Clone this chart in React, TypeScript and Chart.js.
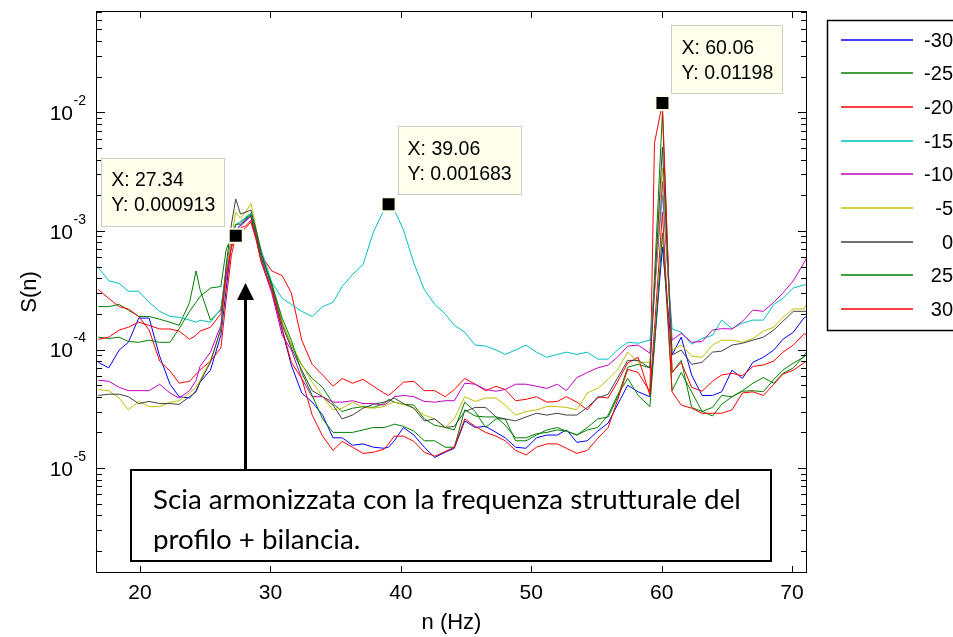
import React, { useEffect, useRef } from "react";
import { Chart, registerables } from "chart.js";

Chart.register(...registerables);

// ---------- data ----------
const freq = [16.8, 17.6, 18.4, 19.1, 19.9, 20.7, 21.5, 22.3, 23.0, 23.8, 24.3, 24.6, 25.4, 26.2, 26.6, 27.0, 27.34, 27.7, 28.1, 28.5, 28.9, 29.3, 30.1, 30.9, 31.6, 32.4, 33.2, 34.0, 34.8, 35.5, 36.3, 37.1, 37.9, 38.7, 39.06, 39.5, 40.2, 41.0, 41.8, 42.6, 43.4, 44.1, 44.9, 45.7, 46.5, 47.3, 48.0, 48.8, 49.6, 50.4, 51.2, 52.0, 52.7, 53.5, 54.3, 55.1, 55.9, 56.6, 57.4, 58.2, 59.1, 59.45, 60.06, 60.8, 61.5, 62.3, 63.1, 63.9, 64.6, 65.4, 66.2, 67.0, 67.8, 68.6, 69.3, 70.1, 70.9, 71.1];

const sM30 = [7.8e-5, 7.0e-5, 9.9e-5, 1.15e-4, 1.84e-4, 1.84e-4, 8.8e-5, 5.1e-5, 4.0e-5, 3.9e-5, 4.5e-5, 5.3e-5, 6.7e-5, 1.32e-4, 3.2e-4, 7.6e-4, 1.02e-3, 1.12e-3, 1.23e-3, 1.33e-3, 9.2e-4, 5.9e-4, 3.2e-4, 1.46e-4, 7.4e-5, 4.3e-5, 3.6e-5, 2.8e-5, 1.8e-5, 1.8e-5, 1.56e-5, 1.6e-5, 1.5e-5, 1.47e-5, 1.5e-5, 1.7e-5, 2.2e-5, 1.9e-5, 1.5e-5, 1.23e-5, 1.36e-5, 1.47e-5, 2.5e-5, 2.2e-5, 2.25e-5, 2.0e-5, 1.8e-5, 1.5e-5, 1.47e-5, 1.8e-5, 1.9e-5, 1.9e-5, 2.1e-5, 1.65e-5, 1.7e-5, 2.05e-5, 2.4e-5, 3.4e-5, 5.0e-5, 4.4e-5, 4.0e-5, 1.11e-4, 7.3e-4, 9.0e-5, 1.27e-4, 6.1e-5, 4.1e-5, 4.1e-5, 4.4e-5, 6.7e-5, 5.7e-5, 7.8e-5, 8.6e-5, 9.9e-5, 1.22e-4, 1.4e-4, 1.84e-4, 1.9e-4];
const sM25 = [2.3e-4, 2.3e-4, 2.4e-4, 2.15e-4, 1.9e-4, 1.9e-4, 1.8e-4, 1.7e-4, 1.6e-4, 2.5e-4, 4.6e-4, 3.2e-4, 1.77e-4, 2.15e-4, 4.7e-4, 8.7e-4, 1.12e-3, 1.19e-3, 1.28e-3, 1.39e-3, 9.8e-4, 6.2e-4, 3.6e-4, 1.7e-4, 1.09e-4, 7.4e-5, 5.7e-5, 4.8e-5, 3.5e-5, 3.0e-5, 3.2e-5, 3.3e-5, 3.25e-5, 3.5e-5, 3.8e-5, 3.6e-5, 3.45e-5, 3.4e-5, 2.6e-5, 2.3e-5, 2.2e-5, 2.1e-5, 3.6e-5, 3.0e-5, 2.2e-5, 2.6e-5, 2.6e-5, 1.7e-5, 1.7e-5, 1.9e-5, 2.1e-5, 2.2e-5, 2.05e-5, 1.9e-5, 2.2e-5, 2.6e-5, 2.7e-5, 3.9e-5, 7.1e-5, 7.5e-5, 7.0e-5, 4.1e-4, 1.0e-2, 6.4e-5, 8.1e-5, 3.25e-5, 3.0e-5, 3.25e-5, 4.1e-5, 4.0e-5, 4.5e-5, 5.2e-5, 5.8e-5, 5.2e-5, 6.3e-5, 7.0e-5, 8.8e-5, 9.5e-5];
const sM20 = [3.2e-4, 2.7e-4, 2.3e-4, 2.2e-4, 1.9e-4, 1.46e-4, 8.0e-5, 6.6e-5, 5.2e-5, 5.4e-5, 6.2e-5, 6.7e-5, 8.0e-5, 1.03e-4, 2.6e-4, 6.2e-4, 9.0e-4, 1.06e-3, 1.1e-3, 1.23e-3, 9.0e-4, 6.2e-4, 4.6e-4, 4.2e-4, 3.0e-4, 1.2e-4, 7.5e-5, 6.1e-5, 4.9e-5, 5.7e-5, 5.2e-5, 5.6e-5, 4.9e-5, 4.3e-5, 4.1e-5, 4.5e-5, 5.3e-5, 5.4e-5, 4.5e-5, 4.5e-5, 4.0e-5, 4.6e-5, 5.7e-5, 5.1e-5, 4.5e-5, 4.9e-5, 4.6e-5, 3.7e-5, 3.8e-5, 4.0e-5, 3.6e-5, 3.65e-5, 4.0e-5, 3.6e-5, 3.1e-5, 4.0e-5, 3.9e-5, 5.3e-5, 7.7e-5, 8.6e-5, 4.1e-5, 5.5e-3, 1.198e-2, 6.4e-5, 7.8e-5, 4.8e-5, 4.45e-5, 5.4e-5, 6.1e-5, 6.3e-5, 6.0e-5, 7.2e-5, 7.4e-5, 8.0e-5, 9.5e-5, 1.09e-4, 1.35e-4, 1.35e-4];
const sM15 = [4.9e-4, 3.8e-4, 3.6e-4, 3.1e-4, 3.1e-4, 2.5e-4, 2.1e-4, 1.9e-4, 1.87e-4, 1.77e-4, 1.7e-4, 1.77e-4, 1.7e-4, 2.2e-4, 4.7e-4, 8.4e-4, 1.12e-3, 1.19e-3, 1.31e-3, 1.41e-3, 1.02e-3, 6.9e-4, 3.7e-4, 2.7e-4, 2.4e-4, 2.1e-4, 1.9e-4, 2.3e-4, 2.5e-4, 3.4e-4, 4.3e-4, 5.2e-4, 9.8e-4, 1.5e-3, 1.683e-3, 1.5e-3, 1.02e-3, 5.35e-4, 3.2e-4, 2.4e-4, 2.0e-4, 1.6e-4, 1.4e-4, 1.09e-4, 1.07e-4, 9.9e-5, 9.1e-5, 9.9e-5, 1.09e-4, 9.5e-5, 8.6e-5, 9.1e-5, 9.5e-5, 9.1e-5, 9.5e-5, 8.3e-5, 8.3e-5, 9.9e-5, 1.15e-4, 1.13e-4, 1.2e-4, 3.2e-4, 2.0e-3, 1.49e-4, 1.4e-4, 1.11e-4, 1.24e-4, 1.32e-4, 1.77e-4, 1.5e-4, 1.67e-4, 1.77e-4, 1.77e-4, 2.4e-4, 2.7e-4, 3.3e-4, 3.5e-4, 3.5e-4];
const sM10 = [5.5e-5, 5.4e-5, 4.8e-5, 4.5e-5, 4.5e-5, 4.5e-5, 5.1e-5, 4.3e-5, 3.9e-5, 4.5e-5, 5.5e-5, 7.2e-5, 9.5e-5, 1.6e-4, 3.8e-4, 7.6e-4, 1.02e-3, 1.1e-3, 1.21e-3, 1.33e-3, 8.7e-4, 5.45e-4, 3.0e-4, 1.32e-4, 9.9e-5, 5.7e-5, 4.0e-5, 4.0e-5, 3.6e-5, 3.6e-5, 3.7e-5, 3.5e-5, 3.5e-5, 3.4e-5, 3.6e-5, 4.0e-5, 4.1e-5, 4.0e-5, 3.65e-5, 3.6e-5, 3.7e-5, 3.7e-5, 5.2e-5, 5.1e-5, 4.6e-5, 4.45e-5, 4.6e-5, 5.1e-5, 5.1e-5, 4.9e-5, 4.7e-5, 5.1e-5, 4.5e-5, 5.8e-5, 6.4e-5, 7.0e-5, 7.4e-5, 8.6e-5, 1.07e-4, 1.09e-4, 9.3e-5, 3.0e-4, 2.6e-3, 1.2e-4, 1.37e-4, 1.15e-4, 1.17e-4, 1.46e-4, 1.5e-4, 1.49e-4, 1.73e-4, 2.15e-4, 2.1e-4, 2.5e-4, 3.0e-4, 3.8e-4, 5.35e-4, 5.9e-4];
const sM5 = [4.6e-5, 4.5e-5, 3.9e-5, 3.1e-5, 3.65e-5, 3.3e-5, 3.3e-5, 3.6e-5, 3.7e-5, 4.3e-5, 4.8e-5, 5.5e-5, 8.1e-5, 1.46e-4, 4.2e-4, 8.4e-4, 1.44e-3, 1.28e-3, 1.44e-3, 1.71e-3, 1.06e-3, 6.2e-4, 3.3e-4, 1.7e-4, 1.11e-4, 7.5e-5, 5.3e-5, 4.0e-5, 3.1e-5, 3.2e-5, 3.6e-5, 3.25e-5, 3.2e-5, 3.3e-5, 3.45e-5, 3.6e-5, 3.45e-5, 3.2e-5, 2.8e-5, 2.6e-5, 2.2e-5, 2.6e-5, 4.0e-5, 3.65e-5, 3.9e-5, 3.9e-5, 3.4e-5, 2.8e-5, 3.0e-5, 3.1e-5, 3.3e-5, 3.3e-5, 3.25e-5, 3.1e-5, 4.3e-5, 4.7e-5, 5.6e-5, 6.7e-5, 9.5e-5, 7.8e-5, 7.8e-5, 3.0e-4, 3.4e-3, 9.9e-5, 1.09e-4, 8.8e-5, 8.6e-5, 1.09e-4, 1.2e-4, 1.2e-4, 1.15e-4, 1.24e-4, 1.43e-4, 1.54e-4, 1.87e-4, 2.2e-4, 2.2e-4, 2.4e-4];
const s0 = [4.1e-5, 4.2e-5, 4.2e-5, 4.0e-5, 3.5e-5, 3.65e-5, 3.5e-5, 3.5e-5, 3.45e-5, 4.0e-5, 4.4e-5, 5.3e-5, 7.8e-5, 1.5e-4, 5.1e-4, 1.12e-3, 1.86e-3, 1.39e-3, 1.44e-3, 1.5e-3, 1.02e-3, 6.5e-4, 3.4e-4, 1.6e-4, 1.03e-4, 6.7e-5, 4.5e-5, 4.0e-5, 3.4e-5, 2.6e-5, 2.8e-5, 3.2e-5, 3.45e-5, 3.6e-5, 3.7e-5, 3.9e-5, 3.5e-5, 3.2e-5, 2.5e-5, 2.6e-5, 2.2e-5, 2.25e-5, 3.0e-5, 3.25e-5, 3.25e-5, 2.7e-5, 2.6e-5, 2.5e-5, 2.7e-5, 2.9e-5, 2.8e-5, 2.9e-5, 2.8e-5, 2.8e-5, 3.25e-5, 3.9e-5, 4.2e-5, 5.7e-5, 8.1e-5, 8.1e-5, 7.0e-5, 3.2e-4, 5.1e-3, 9.0e-5, 9.9e-5, 7.5e-5, 7.8e-5, 9.5e-5, 9.7e-5, 1.09e-4, 1.13e-4, 1.2e-4, 1.27e-4, 1.46e-4, 1.73e-4, 2.1e-4, 2.1e-4, 2.1e-4];
const sP25 = [1.27e-4, 1.24e-4, 1.27e-4, 1.17e-4, 1.15e-4, 1.2e-4, 1.15e-4, 1.15e-4, 1.5e-4, 2.1e-4, 2.5e-4, 2.8e-4, 3.3e-4, 3.4e-4, 6.9e-4, 9.0e-4, 1.14e-3, 1.14e-3, 1.26e-3, 1.36e-3, 9.4e-4, 6.0e-4, 3.6e-4, 1.84e-4, 1.2e-4, 6.4e-5, 4.1e-5, 2.6e-5, 2.0e-5, 2.0e-5, 2.0e-5, 2.1e-5, 2.2e-5, 2.2e-5, 2.25e-5, 2.35e-5, 2.25e-5, 2.05e-5, 1.7e-5, 1.7e-5, 1.5e-5, 1.5e-5, 3.1e-5, 2.75e-5, 2.7e-5, 2.7e-5, 2.3e-5, 1.8e-5, 1.8e-5, 1.95e-5, 2.0e-5, 2.1e-5, 2.05e-5, 1.9e-5, 2.1e-5, 2.2e-5, 2.8e-5, 4.1e-5, 5.7e-5, 4.1e-5, 3.3e-5, 1.09e-4, 9.6e-4, 4.5e-5, 6.4e-5, 4.4e-5, 3.0e-5, 2.75e-5, 3.45e-5, 4.0e-5, 4.45e-5, 4.5e-5, 4.4e-5, 5.6e-5, 6.7e-5, 7.7e-5, 8.6e-5, 9.0e-5];
const sP30 = [1.22e-4, 1.27e-4, 1.46e-4, 1.54e-4, 1.7e-4, 1.6e-4, 1.49e-4, 1.49e-4, 1.43e-4, 1.22e-4, 1.32e-4, 1.43e-4, 1.54e-4, 2.0e-4, 4.2e-4, 7.2e-4, 9.13e-4, 9.8e-4, 1.06e-3, 1.19e-3, 8.4e-4, 5.45e-4, 3.2e-4, 1.5e-4, 7.8e-5, 5.7e-5, 2.8e-5, 1.86e-5, 1.41e-5, 1.68e-5, 1.5e-5, 1.33e-5, 1.36e-5, 1.44e-5, 1.6e-5, 1.86e-5, 1.86e-5, 1.68e-5, 1.36e-5, 1.26e-5, 1.38e-5, 1.5e-5, 2.6e-5, 2.25e-5, 2.0e-5, 1.86e-5, 1.7e-5, 1.41e-5, 1.29e-5, 1.5e-5, 1.6e-5, 1.6e-5, 1.47e-5, 1.33e-5, 1.41e-5, 1.78e-5, 2.2e-5, 3.7e-5, 6.8e-5, 6.4e-5, 4.4e-5, 1.5e-4, 1.44e-3, 4.4e-5, 3.4e-5, 3.2e-5, 2.9e-5, 2.9e-5, 2.9e-5, 3.1e-5, 4.3e-5, 4.4e-5, 4.1e-5, 5.1e-5, 6.2e-5, 6.7e-5, 7.7e-5, 8.0e-5];

const seriesLabels = ["-30", "-25", "-20", "-15", "-10", "-5", "0", "25", "30"];
const seriesValues = [sM30, sM25, sM20, sM15, sM10, sM5, s0, sP25, sP30];
const seriesColors = ["#0000FF", "#008000", "#FF0000", "#00BFBF", "#BF00BF", "#BFBF00", "#404040", "#008000", "#FF0000"];

const xTickValues = [20, 30, 40, 50, 60, 70];
const yTickExponents = [-2, -3, -4, -5];
const xLimits = [16.7, 71.07];
const yLimits = [1.33e-6, 0.0702];

const tipX = [27.34, 39.06, 60.06];
const tipY = [0.000913, 0.001683, 0.01198];
const tipLabelX = ["X: 27.34", "X: 39.06", "X: 60.06"];
const tipLabelY = ["Y: 0.000913", "Y: 0.001683", "Y: 0.01198"];

const noteLines = ["Scia armonizzata con la frequenza strutturale del", "profilo + bilancia."];
const arrowX = 28.05;

const AX_FONT = '"Liberation Sans", Arial, Helvetica, sans-serif';

const decor = {
  id: "decor",
  afterDraw(chart: any) {
    const { ctx, chartArea: a, scales } = chart;
    const xs = scales.x;
    const ys = scales.y;
    ctx.save();

    // axes frame
    ctx.strokeStyle = "#000";
    ctx.lineWidth = 1;
    ctx.strokeRect(a.left - 0.5, a.top - 0.5, a.right - a.left + 1, a.bottom - a.top + 1);

    // ticks
    ctx.beginPath();
    for (const t of xTickValues) {
      const px = Math.round(xs.getPixelForValue(t)) + 0.5;
      ctx.moveTo(px, a.bottom);
      ctx.lineTo(px, a.bottom - 6);
      ctx.moveTo(px, a.top);
      ctx.lineTo(px, a.top + 6);
    }
    for (let e = -7; e <= -1; e++) {
      for (let k = 1; k <= 9; k++) {
        const v = k * Math.pow(10, e);
        if (v < ys.min || v > ys.max) continue;
        const py = Math.round(ys.getPixelForValue(v)) + 0.5;
        const len = k === 1 ? 8 : 5;
        ctx.moveTo(a.left, py);
        ctx.lineTo(a.left + len, py);
        ctx.moveTo(a.right, py);
        ctx.lineTo(a.right - len, py);
      }
    }
    ctx.stroke();

    // tick labels
    ctx.fillStyle = "#000";
    ctx.font = `21px ${AX_FONT}`;
    ctx.textAlign = "center";
    ctx.textBaseline = "middle";
    for (const t of xTickValues) {
      ctx.fillText(String(t), xs.getPixelForValue(t), a.bottom + 21);
    }
    for (const e of yTickExponents) {
      const py = ys.getPixelForValue(Math.pow(10, e));
      const sup = String(e);
      ctx.font = `14px ${AX_FONT}`;
      const sw = ctx.measureText(sup).width;
      ctx.textAlign = "right";
      ctx.fillText(sup, a.left - 11, py - 11);
      ctx.font = `21px ${AX_FONT}`;
      ctx.fillText("10", a.left - 11 - sw - 0.5, py + 2);
    }

    // axis titles
    ctx.font = `22px ${AX_FONT}`;
    ctx.textAlign = "center";
    ctx.fillText("n (Hz)", (a.left + a.right) / 2, 623);
    ctx.save();
    ctx.translate(30, (a.top + a.bottom) / 2);
    ctx.rotate(-Math.PI / 2);
    ctx.fillText("S(n)", 0, 0);
    ctx.restore();

    // legend
    ctx.fillStyle = "#fff";
    ctx.fillRect(827, 20, 140, 311);
    ctx.lineWidth = 1.5;
    ctx.strokeStyle = "#000";
    ctx.strokeRect(827.5, 20.5, 140, 310);
    ctx.font = `20px ${AX_FONT}`;
    ctx.textAlign = "right";
    ctx.textBaseline = "middle";
    seriesLabels.forEach((lab, i) => {
      const y = Math.round(39.5 + i * 33.7);
      ctx.strokeStyle = seriesColors[i];
      ctx.lineWidth = 1.4;
      ctx.beginPath();
      ctx.moveTo(841, y);
      ctx.lineTo(913, y);
      ctx.stroke();
      ctx.fillStyle = "#000";
      ctx.fillText(lab, 953, y + 1);
    });

    // data tip boxes
    ctx.font = `19.5px ${AX_FONT}`;
    ctx.textAlign = "left";
    ctx.textBaseline = "alphabetic";
    tipX.forEach((tx, i) => {
      const mx = xs.getPixelForValue(tx);
      const my = ys.getPixelForValue(tipY[i]);
      const w = Math.max(ctx.measureText(tipLabelX[i]).width, ctx.measureText(tipLabelY[i]).width) + 19;
      const h = 68;
      let left: number;
      const bottom = my - 10;
      if (i === 0) left = mx - 11.5 - w;
      else left = mx + 9;
      const top = bottom - h;
      ctx.fillStyle = "rgb(255,255,236)";
      ctx.fillRect(left, top, w, h);
      ctx.strokeStyle = "rgb(205,205,200)";
      ctx.lineWidth = 1;
      ctx.strokeRect(Math.round(left) + 0.5, Math.round(top) + 0.5, Math.round(w), Math.round(h));
      ctx.fillStyle = "#000";
      ctx.fillText(tipLabelX[i], left + 10, top + 28.5);
      ctx.fillText(tipLabelY[i], left + 10, top + 53.5);
    });

    // arrow
    const ax = Math.round(xs.getPixelForValue(arrowX)) + 0.5;
    ctx.strokeStyle = "#000";
    ctx.fillStyle = "#000";
    ctx.lineWidth = 3;
    ctx.beginPath();
    ctx.moveTo(ax, 470);
    ctx.lineTo(ax, 296);
    ctx.stroke();
    ctx.beginPath();
    ctx.moveTo(ax, 283);
    ctx.lineTo(ax - 8.5, 300);
    ctx.lineTo(ax + 8.5, 300);
    ctx.closePath();
    ctx.fill();

    // note box
    const bx = 131, by = 470, bw = 640, bh = 91;
    ctx.fillStyle = "#fff";
    ctx.fillRect(bx, by, bw, bh);
    ctx.lineWidth = 2;
    ctx.strokeStyle = "#000";
    ctx.strokeRect(bx, by, bw, bh);
    ctx.save();
    ctx.beginPath();
    ctx.rect(bx + 2, by + 2, bw - 4, 80);
    ctx.clip();
    ctx.font = `24px Lato, "Open Sans", sans-serif`;
    const mw = ctx.measureText(noteLines[0]).width;
    const fs = (24 * 588) / mw;
    ctx.font = `${fs}px Lato, "Open Sans", sans-serif`;
    ctx.fillStyle = "#000";
    ctx.textAlign = "left";
    ctx.fillText(noteLines[0], 153, 509);
    ctx.fillText(noteLines[1], 153, 549);
    ctx.restore();

    ctx.restore();
  },
};

export default function App() {
  const ref = useRef<HTMLCanvasElement>(null);
  useEffect(() => {
    if (!ref.current) return;
    const datasets: any[] = seriesValues.map((vals, i) => ({
      label: seriesLabels[i],
      data: freq.map((f, j) => ({ x: f, y: vals[j] })),
      borderColor: seriesColors[i],
      backgroundColor: seriesColors[i],
      borderWidth: 1,
      pointRadius: 0,
      tension: 0,
      fill: false,
      order: 10 - i,
    }));
    datasets.push({
      label: "tips",
      data: tipX.map((x, i) => ({ x, y: tipY[i] })),
      showLine: false,
      pointStyle: "rect",
      pointRadius: 9.9,
      pointBackgroundColor: "#000",
      pointBorderColor: "rgb(255,255,236)",
      pointBorderWidth: 2,
      clip: false,
      order: 0,
    });
    const chart = new Chart(ref.current, {
      type: "line",
      data: { datasets },
      options: {
        responsive: false,
        animation: false,
        events: [],
        layout: { padding: { left: 97, right: 147, top: 12, bottom: 65 } },
        plugins: { legend: { display: false }, tooltip: { enabled: false } },
        scales: {
          x: { type: "linear", min: xLimits[0], max: xLimits[1], display: false },
          y: { type: "logarithmic", min: yLimits[0], max: yLimits[1], display: false },
        },
      },
      plugins: [decor],
    } as any);
    return () => chart.destroy();
  }, []);
  return (
    <div style={{ position: "absolute", left: 0, top: 0, width: 953, height: 637, background: "#fff", overflow: "hidden" }}>
      <canvas ref={ref} width={953} height={637} style={{ width: 953, height: 637, display: "block" }} />
    </div>
  );
}
